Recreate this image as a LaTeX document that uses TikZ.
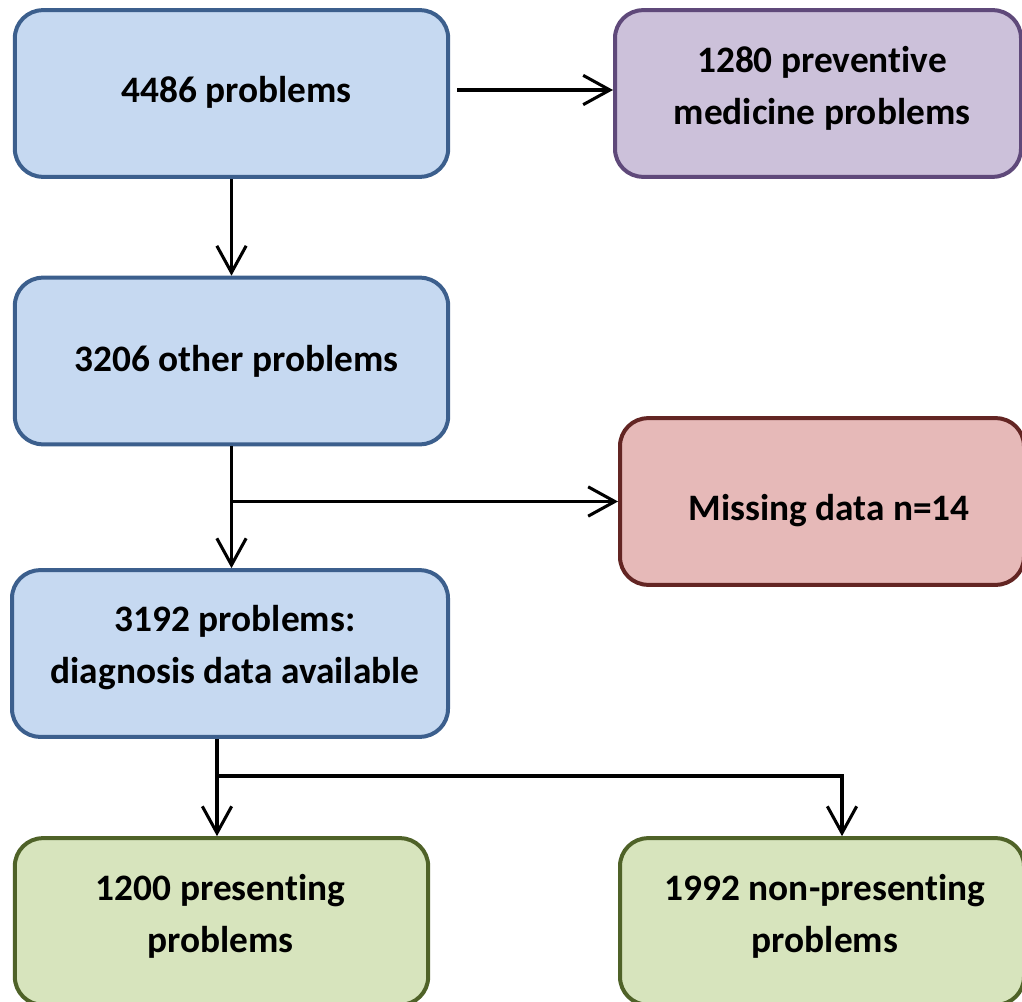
\documentclass[tikz,border=0pt]{standalone}
\usepackage{fontspec}
\setmainfont{Carlito}[Ligatures=NoCommon]
\usetikzlibrary{arrows.meta,calc}
\definecolor{blueFill}{HTML}{C6D9F1}
\definecolor{blueLine}{HTML}{3C5F8D}
\definecolor{violetFill}{HTML}{CCC1DA}
\definecolor{violetLine}{HTML}{5F497A}
\definecolor{redFill}{HTML}{E6B9B8}
\definecolor{redLine}{HTML}{632523}
\definecolor{greenFill}{HTML}{D7E4BD}
\definecolor{greenLine}{HTML}{4F6228}
\tikzset{
  box/.style={draw, line width=3pt, rounded corners=21pt,
    minimum height=125pt, inner sep=0pt},
  bluebox/.style={box, fill=blueFill, draw=blueLine},
  violetbox/.style={box, fill=violetFill, draw=violetLine},
  redbox/.style={box, fill=redFill, draw=redLine},
  greenbox/.style={box, fill=greenFill, draw=greenLine},
  caption/.style={align=center, inner sep=0pt,
    font=\fontsize{28}{39}\selectfont\bfseries},
  arr/.style={line width=2.3pt, -{Straight Barb[length=20pt,width=22pt,line width=2.3pt]}},
}
\begin{document}
\begin{tikzpicture}[x=0.75pt,y=-0.75pt]
\useasboundingbox (0,0) rectangle (1022,1002);
% boxes
\node[bluebox, minimum width=325pt] (A) at (231.5,93.5) {};
\node[violetbox, minimum width=304.5pt] (B) at (818,93.5) {};
\node[bluebox, minimum width=325pt] (C) at (231.5,361) {};
\node[redbox, minimum width=303pt] (D) at (822,501.5) {};
\node[bluebox, minimum width=327pt] (E) at (230,653.5) {};
\node[greenbox, minimum width=310pt] (F) at (221.5,921.5) {};
\node[greenbox, minimum width=303pt] (G) at (822,921.5) {};
% box texts
\node[caption] (tA) at ([shift={(5,-1)}]A.center) {4486 problems};
\node[caption] (tB) at ([shift={(4,-5)}]B.center) {1280 preventive\\medicine problems};
\node[caption] (tC) at ([shift={(5,0)}]C.center) {3206 other problems};
\node[caption] (tD) at ([shift={(7,9)}]D.center) {Missing data n=14};
\node[caption] (tE) at ([shift={(5,-6)}]E.center) {3192 problems:\\diagnosis data available};
\node[caption] (tF) at ([shift={(-1,-5)}]F.center) {1200 presenting\\problems};
\node[caption] (tG) at ([shift={(3,-5)}]G.center) {1992 non-presenting\\problems};
% connectors
\coordinate (split) at (217,776);
\coordinate (outA) at ([shift={(7,-3.5)}]A.east);
\draw[arr] (outA) -- (outA -| B.west);
\draw[arr] (A.south) -- (C.north);
\draw[arr] (C.south) -- (C.south |- E.north);
\draw[arr] (C.south |- D.west) -- (D.west);
\draw[arr] (E.south -| split) -- (F.north -| split);
\draw[arr] (split) -| ([xshift=15pt]G.north);
\end{tikzpicture}
\end{document}
